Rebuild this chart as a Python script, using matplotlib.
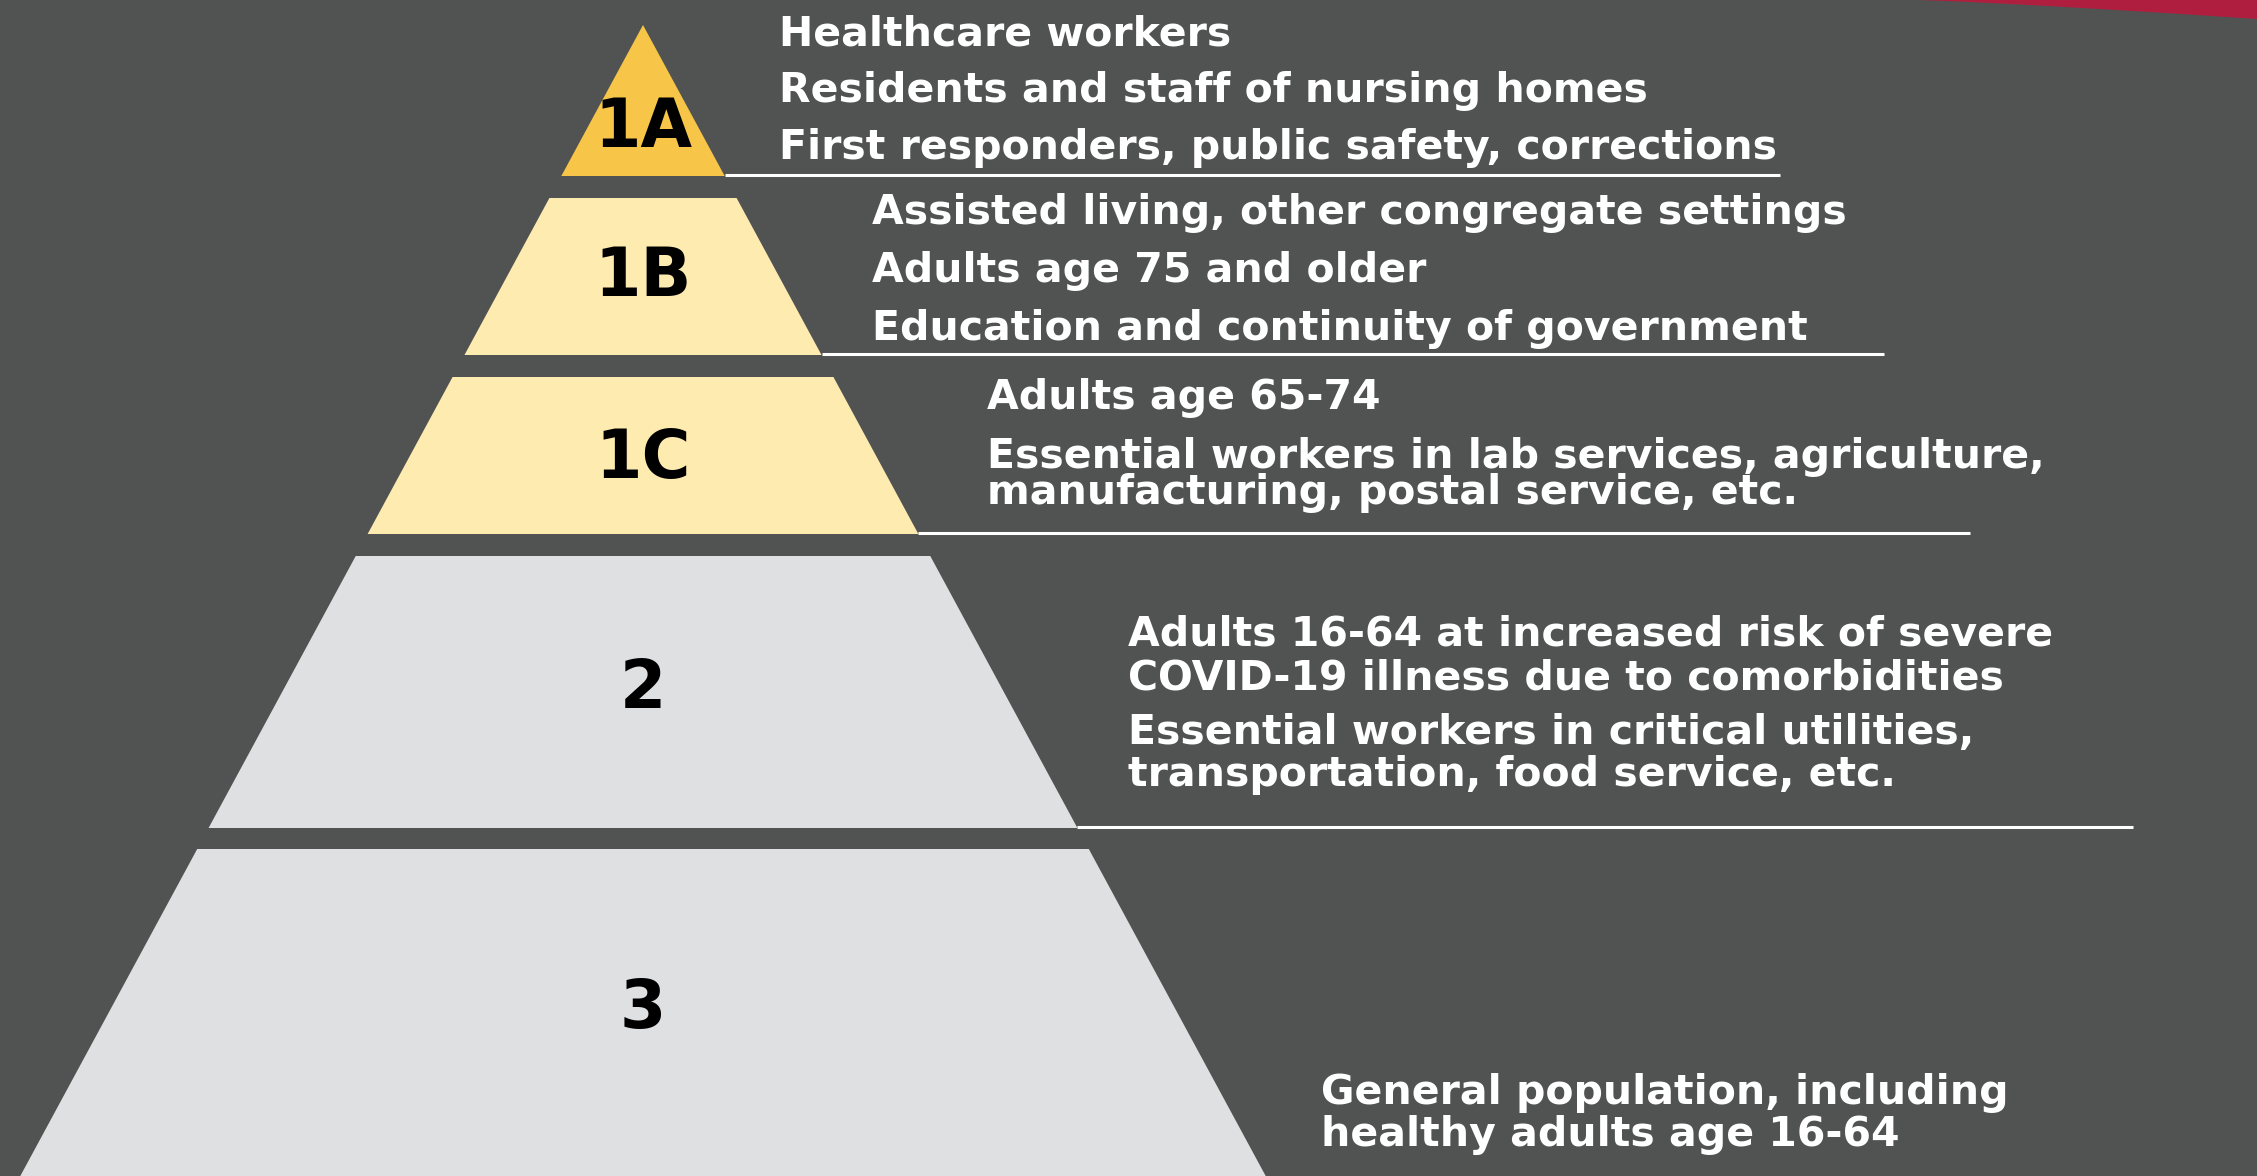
"""
Vaccine phase pyramid - tiers with their priority groups
"""
import numpy as np
import matplotlib.pyplot as plt
from matplotlib.patches import Polygon

W, H = 2257, 1176

bg_color = "#515352"
tier_labels = ["1A", "1B", "1C", "2", "3"]
tier_colors = ["#F7C548", "#FEEBB0", "#FEEBB0", "#DFE0E2", "#DFE0E2"]
tier_top = [25, 198, 377, 556, 849]
tier_bottom = [176, 355, 534, 828, 1176]
label_y = [128, 277, 459, 689, 1009]
line_end = [1780, 1884, 1970, 2133, None]

text_x = [779, 872, 987, 1128, 1321]
text_lines = [
    ["Healthcare workers",
     "Residents and staff of nursing homes",
     "First responders, public safety, corrections"],
    ["Assisted living, other congregate settings",
     "Adults age 75 and older",
     "Education and continuity of government"],
    ["Adults age 65-74",
     "Essential workers in lab services, agriculture,",
     "manufacturing, postal service, etc."],
    ["Adults 16-64 at increased risk of severe",
     "COVID-19 illness due to comorbidities",
     "Essential workers in critical utilities,",
     "transportation, food service, etc."],
    ["General population, including",
     "healthy adults age 16-64"],
]
text_baselines = [
    [45, 102, 159],
    [224, 282, 340],
    [409, 468, 504],
    [645, 689, 744, 786],
    [1104, 1146],
]

apex_x, apex_y = 643, 25
slope = 0.541   # half width per pixel down from the apex

fig = plt.figure(figsize=(W / 100, H / 100), dpi=100)
fig.patch.set_facecolor(bg_color)
ax = fig.add_axes([0, 0, 1, 1])
ax.set_xlim(0, W)
ax.set_ylim(H, 0)
ax.axis("off")

def half_width(y):
    return (y - apex_y) * slope

for i in range(len(tier_labels)):
    t, b = tier_top[i], tier_bottom[i]
    ht, hb = half_width(t), half_width(b)
    pts = [(apex_x - ht, t), (apex_x + ht, t), (apex_x + hb, b), (apex_x - hb, b)]
    ax.add_patch(Polygon(pts, closed=True, facecolor=tier_colors[i], edgecolor="none"))
    ax.text(apex_x, label_y[i], tier_labels[i], ha="center", va="center",
            fontsize=48, fontweight="heavy", color="black", family="DejaVu Sans")
    if line_end[i]:
        ax.plot([apex_x + hb, line_end[i]], [b - 1, b - 1], color="white", lw=2.2,
                solid_capstyle="butt")
    for s, yb in zip(text_lines[i], text_baselines[i]):
        ax.text(text_x[i], yb, s, ha="left", va="baseline", fontsize=29.5,
                fontweight="bold", color="white", family="DejaVu Sans")

# red swoosh in the top right corner
cx = np.linspace(1917, W, 30)
cy = 19 * ((cx - 1917) / (W - 1917)) ** 1.2
ax.fill(np.r_[cx, W], np.r_[cy, 0], color="#B01E3F", lw=0)

fig.savefig("out.png", dpi=100, facecolor=bg_color)
